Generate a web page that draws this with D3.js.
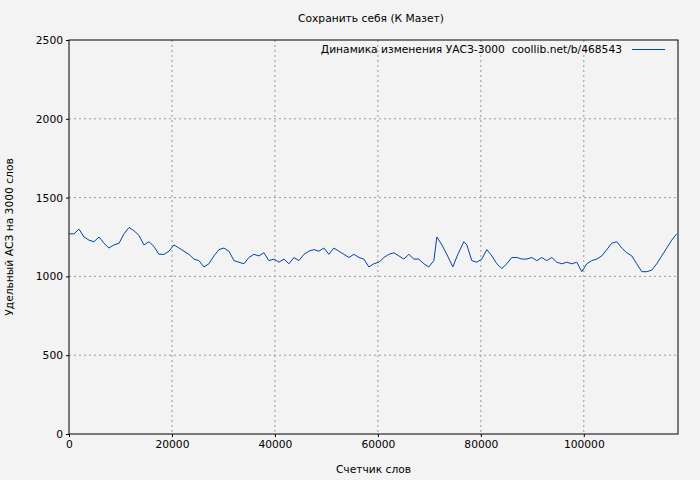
<!DOCTYPE html>
<html><head><meta charset="utf-8">
<script src="https://cdn.jsdelivr.net/npm/d3@7"></script>
<style>body{margin:0;background:#f3f3f3}svg{font-family:"DejaVu Sans",sans-serif;font-size:10.7px}text{white-space:pre}</style>
</head><body>
<script>
const words = [0,970,1940,2910,3880,4850,5830,6800,7770,8740,9710,10680,11650,12620,13590,14560,15530,16500,17480,18450,19420,20390,21360,22330,23300,24270,25240,26210,27180,28160,29130,30100,31070,32040,33010,33980,34950,35920,36890,37860,38830,39810,40780,41750,42720,43690,44660,45630,46600,47570,48540,49510,50490,51460,52430,53400,54370,55340,56310,57280,58250,59220,60190,61170,62140,63110,64080,65050,66020,66990,67960,68930,69900,70870,71460,72430,73400,74560,75530,76700,77280,78250,79220,80190,81170,82140,83110,84080,85050,86020,86990,87960,88930,89900,90870,91840,92810,93790,94760,95730,96700,97670,98640,99610,100580,101550,102520,103500,104470,105430,106400,107380,108350,109320,110290,111260,112230,113200,114170,115140,116110,117080,118060];
const uasz = [1270,1270,1300,1250,1230,1220,1250,1210,1180,1200,1210,1270,1310,1290,1260,1200,1220,1190,1140,1140,1160,1200,1180,1160,1140,1110,1100,1060,1080,1130,1170,1180,1160,1100,1090,1080,1120,1140,1130,1150,1100,1110,1090,1110,1080,1120,1100,1140,1160,1170,1160,1180,1140,1180,1160,1140,1120,1140,1120,1110,1060,1080,1090,1120,1140,1150,1130,1110,1140,1110,1110,1080,1060,1100,1250,1200,1140,1060,1140,1220,1200,1100,1090,1110,1170,1130,1080,1050,1080,1120,1120,1110,1110,1120,1100,1120,1100,1120,1090,1080,1090,1080,1090,1030,1080,1100,1110,1130,1170,1210,1220,1180,1150,1130,1080,1030,1030,1040,1080,1130,1180,1230,1270];
const xTicks = [0,20000,40000,60000,80000,100000];
const yTicks = [0,500,1000,1500,2000,2500];

const W = 700, H = 480, m = {l:69, r:22, t:40, b:46};
const svg = d3.select("body").append("svg").attr("width", W).attr("height", H);
const x = d3.scaleLinear().domain([0, 118300]).range([m.l, W - m.r]);
const y = d3.scaleLinear().domain([0, 2500]).range([H - m.b, m.t]);

const grid = svg.append("g").attr("stroke", "#999").attr("stroke-dasharray", "2,3");
grid.selectAll(".gx").data(xTicks.slice(1)).enter().append("line")
  .attr("x1", d => x(d)).attr("x2", d => x(d)).attr("y1", m.t).attr("y2", H - m.b);
grid.selectAll(".gy").data(yTicks.slice(1, -1)).enter().append("line")
  .attr("x1", m.l).attr("x2", W - m.r).attr("y1", d => y(d)).attr("y2", d => y(d));

svg.append("g").attr("transform", "translate(0," + (H - m.b) + ")")
  .call(d3.axisBottom(x).tickValues(xTicks).tickSize(3).tickFormat(d3.format("d")))
  .call(g => g.select(".domain").remove());
svg.append("g").attr("transform", "translate(" + m.l + ",0)")
  .call(d3.axisLeft(y).tickValues(yTicks).tickSize(3).tickFormat(d3.format("d")))
  .call(g => g.select(".domain").remove());
svg.selectAll(".tick text").attr("font-family", "DejaVu Sans").attr("font-size", 10.7).attr("fill", "#000");

svg.append("rect").attr("x", m.l).attr("y", m.t).attr("width", W - m.l - m.r).attr("height", H - m.t - m.b)
  .attr("fill", "none").attr("stroke", "#000");

const line = d3.line().x((d, i) => x(words[i])).y(d => y(d));
svg.append("path").datum(uasz).attr("d", line).attr("fill", "none").attr("stroke", "#0044aa").attr("stroke-width", 1);

svg.append("text").attr("x", W / 2 + 21).attr("y", 22).attr("text-anchor", "middle").text("Сохранить себя (К Мазет)");
svg.append("text").attr("x", 622).attr("y", 53).attr("text-anchor", "end").text("Динамика изменения УАСЗ-3000  coollib.net/b/468543");
svg.append("line").attr("x1", 632).attr("x2", 665).attr("y1", 49.5).attr("y2", 49.5).attr("stroke", "#0044aa");
svg.append("text").attr("x", (m.l + W - m.r) / 2).attr("y", 473).attr("text-anchor", "middle").text("Счетчик слов");
svg.append("text").attr("transform", "translate(13," + ((m.t + H - m.b) / 2) + ") rotate(-90)")
  .attr("text-anchor", "middle").text("Удельный АСЗ на 3000 слов");
</script>
</body></html>
